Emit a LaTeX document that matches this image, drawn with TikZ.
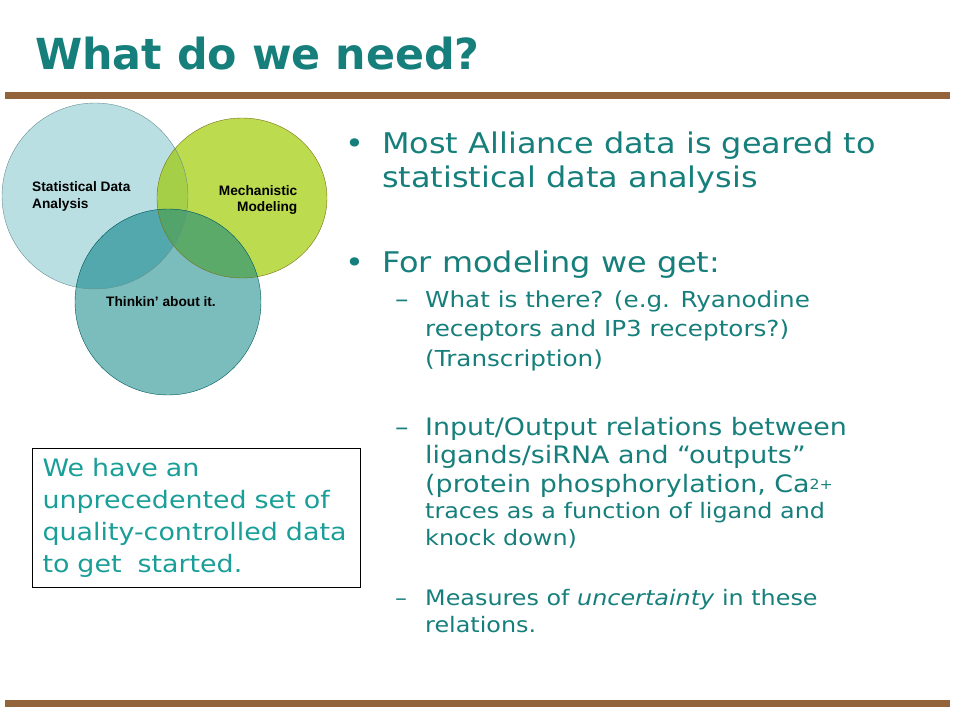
\documentclass[tikz,border=0pt]{standalone}
\usepackage{fontspec}
\setmainfont[FakeStretch=1.12]{DejaVu Sans}
\newfontfamily\titlefont{DejaVu Sans}
\newfontfamily\arialfont{Liberation Sans}
\definecolor{slideteal}{HTML}{167F7B}
\definecolor{boxteal}{HTML}{1A9E98}
\definecolor{barbrown}{HTML}{93643C}
\definecolor{statblue}{HTML}{BADFE3}
\definecolor{mechgreen}{HTML}{BDDB4F}
\definecolor{thinkteal}{HTML}{7BBDBC}
\definecolor{statmech}{HTML}{A6CF48}
\definecolor{statthink}{HTML}{52A8AC}
\definecolor{mechthink}{HTML}{5BAA6A}
\definecolor{allthree}{HTML}{53A46A}

\begin{document}
\begin{tikzpicture}[x=1pt,y=-1pt,
  bulletline/.style={anchor=base west,align=left,inner sep=0pt,text=slideteal,font=\fontsize{28.5}{34}\selectfont},
  subline/.style={anchor=base west,align=left,inner sep=0pt,text=slideteal,font=\fontsize{24}{28.5}\selectfont},
  smallline/.style={anchor=base west,align=left,inner sep=0pt,text=slideteal,font=\fontsize{21.3}{27}\selectfont},
  vennlabel/.style={inner sep=0pt,align=left,font=\arialfont\bfseries\fontsize{13.7}{16.5}\selectfont}]
\useasboundingbox (0,0) rectangle (960,720);
\fill[barbrown] (5,92) rectangle (950,99);
\fill[barbrown] (5,700) rectangle (950,707);
\node[anchor=base west,inner sep=0pt,text=slideteal,font=\titlefont\bfseries\fontsize{42.8}{52}\selectfont] (title) at (35,69) {What do we need?};

\coordinate (stat) at (95,196);
\coordinate (mech) at (242,198);
\coordinate (think) at (168,302);
\fill[statblue] (stat) circle[radius=93];
\fill[mechgreen] (mech) ellipse[x radius=85,y radius=80];
\fill[thinkteal] (think) circle[radius=93];
\begin{scope}
  \clip (stat) circle[radius=93];
  \fill[statmech] (mech) ellipse[x radius=85,y radius=80];
  \fill[statthink] (think) circle[radius=93];
\end{scope}
\begin{scope}
  \clip (mech) ellipse[x radius=85,y radius=80];
  \fill[mechthink] (think) circle[radius=93];
  \clip (stat) circle[radius=93];
  \fill[allthree] (think) circle[radius=93];
\end{scope}
\draw[color=black!45!teal!60,thin] (stat) circle[radius=93];
\draw[color=olive!80!black,thin] (mech) ellipse[x radius=85,y radius=80];
\draw[color=teal!70!black,thin] (think) circle[radius=93];
\node[vennlabel,anchor=base west] (statlabel) at (32,208) {Statistical Data\\Analysis};
\node[vennlabel,anchor=base east,align=right] (mechlabel) at (297.5,211.5) {Mechanistic\\Modeling};
\node[vennlabel,anchor=base west] (thinklabel) at (106,306) {Thinkin’ about it.};

\node[draw,line width=1pt,anchor=north west,minimum width=328,minimum height=139,text width=308,inner xsep=10pt,align=left,text=boxteal,font=\fontsize{24}{32}\selectfont] (databox) at (32,448) {We have an\\unprecedented set of\\quality-controlled data\\to get\ \ started.};

\node[bulletline] (alliance) at (382,187) {Most Alliance data is geared to\\statistical data analysis};
\node[bulletline] at (345,153) {•};
\node[bulletline] (modeling) at (382,272) {For modeling we get:};
\node[bulletline] at (345,272) {•};
\node[subline,font=\fontsize{22}{29.5}\selectfont] (there) at (425,366) {What is there? (e.g. Ryanodine\\receptors and IP3 receptors?)\\(Transcription)};
\node[subline] at (395,307) {–};
\node[subline] (inout) at (425,492) {Input/Output relations between\\ligands/siRNA and “outputs”\\(protein phosphorylation, Ca\raisebox{2.5pt}{\fontsize{14}{14}\selectfont 2+}};
\node[subline] at (395,435) {–};
\node[smallline] (traces) at (425,545) {traces as a function of ligand and\\knock down)};
\node[smallline] (uncert) at (425,632) {Measures of \textit{uncertainty} in these\\relations.};
\node[smallline] at (395,605) {–};
\end{tikzpicture}
\end{document}
